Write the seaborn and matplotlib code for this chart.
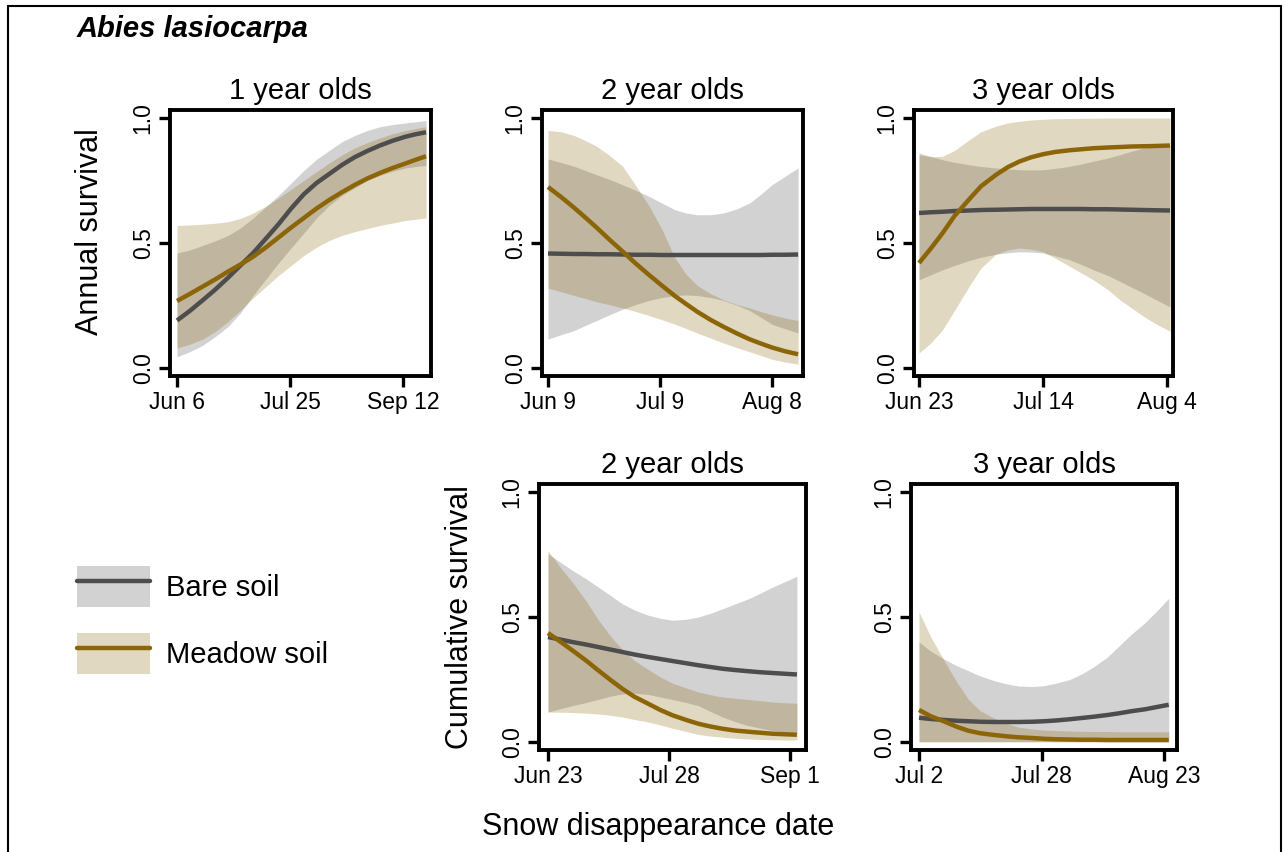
import numpy as np
import pandas as pd
import matplotlib
matplotlib.use("Agg")
import matplotlib.pyplot as plt
import seaborn as sns
from matplotlib.lines import Line2D
from matplotlib.patches import Patch
from matplotlib.colors import to_rgba
from matplotlib.legend_handler import HandlerTuple

# ---------------- data (day of year, survival) ----------------
# Panel 1: 1 year olds, annual survival
x1 = [157, 162.5, 168, 173.5, 179, 184.5, 190, 195.5, 201, 206.5, 212, 217.5, 223, 228.5, 234, 239.5, 245, 250.5, 256, 260.5, 265]
bare_fit_1 = [0.19, 0.228, 0.27, 0.313, 0.36, 0.41, 0.46, 0.517, 0.575, 0.638, 0.695, 0.74, 0.776, 0.812, 0.843, 0.868, 0.89, 0.909, 0.925, 0.935, 0.943]
bare_lo_1 = [0.045, 0.065, 0.09, 0.125, 0.165, 0.22, 0.29, 0.355, 0.42, 0.48, 0.54, 0.60, 0.65, 0.69, 0.72, 0.75, 0.77, 0.787, 0.80, 0.806, 0.81]
bare_hi_1 = [0.46, 0.472, 0.49, 0.508, 0.53, 0.56, 0.60, 0.645, 0.69, 0.74, 0.79, 0.835, 0.87, 0.905, 0.93, 0.95, 0.965, 0.974, 0.98, 0.985, 0.99]
meadow_fit_1 = [0.268, 0.296, 0.325, 0.354, 0.385, 0.414, 0.445, 0.482, 0.522, 0.562, 0.60, 0.638, 0.672, 0.703, 0.732, 0.758, 0.78, 0.80, 0.818, 0.833, 0.847]
meadow_lo_1 = [0.08, 0.095, 0.115, 0.145, 0.185, 0.23, 0.28, 0.325, 0.37, 0.41, 0.45, 0.483, 0.51, 0.53, 0.545, 0.558, 0.57, 0.58, 0.59, 0.595, 0.60]
meadow_hi_1 = [0.57, 0.572, 0.575, 0.579, 0.585, 0.598, 0.62, 0.647, 0.68, 0.715, 0.75, 0.785, 0.82, 0.852, 0.88, 0.902, 0.92, 0.937, 0.95, 0.958, 0.965]

# Panel 2: 2 year olds, annual survival
x2 = [160, 163.5, 167, 170, 173, 176.5, 180, 183.5, 187, 190.5, 194, 197, 200, 203.5, 207, 210.5, 214, 217, 220, 223.5, 227]
bare_fit_2 = [0.458, 0.457, 0.456, 0.456, 0.455, 0.455, 0.454, 0.453, 0.453, 0.452, 0.452, 0.452, 0.452, 0.452, 0.452, 0.452, 0.452, 0.452, 0.453, 0.453, 0.454]
bare_lo_2 = [0.116, 0.133, 0.15, 0.17, 0.19, 0.213, 0.235, 0.254, 0.27, 0.282, 0.29, 0.292, 0.29, 0.282, 0.27, 0.252, 0.23, 0.203, 0.175, 0.157, 0.14]
bare_hi_2 = [0.836, 0.822, 0.807, 0.79, 0.773, 0.754, 0.733, 0.711, 0.687, 0.66, 0.633, 0.62, 0.613, 0.613, 0.62, 0.636, 0.66, 0.695, 0.733, 0.767, 0.80]
meadow_fit_2 = [0.724, 0.684, 0.641, 0.602, 0.562, 0.513, 0.466, 0.418, 0.373, 0.33, 0.288, 0.256, 0.225, 0.193, 0.165, 0.139, 0.115, 0.098, 0.082, 0.067, 0.055]
meadow_lo_2 = [0.32, 0.305, 0.29, 0.278, 0.265, 0.253, 0.24, 0.226, 0.21, 0.193, 0.175, 0.158, 0.14, 0.12, 0.10, 0.082, 0.065, 0.05, 0.035, 0.024, 0.015]
meadow_hi_2 = [0.95, 0.945, 0.93, 0.91, 0.887, 0.85, 0.807, 0.73, 0.65, 0.555, 0.44, 0.375, 0.33, 0.298, 0.273, 0.255, 0.24, 0.226, 0.213, 0.20, 0.19]

# Panel 3: 3 year olds, annual survival
x3 = [174, 176, 178, 180, 182.5, 184.5, 187, 189, 191, 193, 195, 197, 199.5, 201.5, 203.5, 206, 208, 210, 212, 214, 216.5]
bare_fit_3 = [0.62, 0.623, 0.625, 0.628, 0.63, 0.632, 0.633, 0.634, 0.635, 0.636, 0.636, 0.636, 0.636, 0.636, 0.635, 0.635, 0.634, 0.633, 0.632, 0.631, 0.63]
bare_lo_3 = [0.353, 0.373, 0.393, 0.41, 0.43, 0.443, 0.455, 0.461, 0.465, 0.464, 0.46, 0.449, 0.433, 0.414, 0.393, 0.37, 0.347, 0.323, 0.30, 0.275, 0.244]
bare_hi_3 = [0.86, 0.846, 0.833, 0.823, 0.813, 0.806, 0.80, 0.796, 0.793, 0.792, 0.793, 0.798, 0.807, 0.816, 0.827, 0.84, 0.853, 0.867, 0.88, 0.886, 0.89]
meadow_fit_3 = [0.42, 0.478, 0.54, 0.608, 0.675, 0.727, 0.772, 0.803, 0.826, 0.843, 0.855, 0.864, 0.871, 0.875, 0.879, 0.882, 0.884, 0.886, 0.887, 0.888, 0.89]
meadow_lo_3 = [0.06, 0.10, 0.153, 0.23, 0.327, 0.40, 0.455, 0.472, 0.48, 0.475, 0.465, 0.44, 0.407, 0.38, 0.353, 0.313, 0.273, 0.24, 0.207, 0.178, 0.147]
meadow_hi_3 = [0.853, 0.845, 0.847, 0.87, 0.913, 0.945, 0.967, 0.98, 0.987, 0.992, 0.995, 0.997, 0.998, 0.999, 0.999, 1.0, 1.0, 1.0, 1.0, 1.0, 1.0]

# Panel 4: 2 year olds, cumulative survival
x4 = [174, 177.5, 181, 185, 188.5, 192, 195.5, 199, 203, 206.5, 210, 214, 217.5, 221, 224.5, 228, 232, 235.5, 239, 242.5, 246]
bare_fit_4 = [0.42, 0.41, 0.40, 0.39, 0.38, 0.37, 0.36, 0.35, 0.34, 0.332, 0.324, 0.315, 0.307, 0.30, 0.293, 0.288, 0.283, 0.279, 0.276, 0.273, 0.27]
bare_lo_4 = [0.12, 0.133, 0.145, 0.158, 0.17, 0.183, 0.192, 0.195, 0.19, 0.18, 0.17, 0.158, 0.145, 0.122, 0.10, 0.082, 0.065, 0.055, 0.045, 0.04, 0.035]
bare_hi_4 = [0.753, 0.72, 0.687, 0.653, 0.62, 0.587, 0.553, 0.528, 0.507, 0.495, 0.487, 0.491, 0.50, 0.515, 0.533, 0.552, 0.573, 0.596, 0.62, 0.641, 0.663]
meadow_fit_4 = [0.436, 0.402, 0.367, 0.326, 0.287, 0.249, 0.213, 0.181, 0.153, 0.128, 0.107, 0.088, 0.073, 0.062, 0.053, 0.046, 0.041, 0.037, 0.033, 0.031, 0.029]
meadow_lo_4 = [0.12, 0.119, 0.118, 0.115, 0.112, 0.107, 0.10, 0.09, 0.08, 0.068, 0.055, 0.042, 0.03, 0.024, 0.019, 0.015, 0.012, 0.01, 0.009, 0.008, 0.008]
meadow_hi_4 = [0.765, 0.70, 0.64, 0.565, 0.49, 0.425, 0.37, 0.326, 0.29, 0.26, 0.235, 0.216, 0.20, 0.189, 0.18, 0.175, 0.17, 0.165, 0.16, 0.157, 0.155]

# Panel 5: 3 year olds, cumulative survival
x5 = [183, 185.5, 188.5, 191, 193.5, 196, 199, 201.5, 204, 207, 209.5, 212, 215, 217.5, 220, 223, 225.5, 228, 231, 233.5, 236]
bare_fit_5 = [0.097, 0.092, 0.088, 0.085, 0.083, 0.081, 0.08, 0.08, 0.08, 0.081, 0.083, 0.086, 0.091, 0.096, 0.101, 0.108, 0.115, 0.123, 0.131, 0.14, 0.149]
bare_lo_5 = [0.002, 0.002, 0.002, 0.002, 0.002, 0.002, 0.002, 0.002, 0.002, 0.002, 0.002, 0.002, 0.002, 0.003, 0.003, 0.003, 0.003, 0.004, 0.004, 0.005, 0.005]
bare_hi_5 = [0.40, 0.363, 0.33, 0.305, 0.285, 0.264, 0.245, 0.233, 0.224, 0.222, 0.225, 0.235, 0.25, 0.272, 0.30, 0.34, 0.385, 0.43, 0.478, 0.525, 0.575]
meadow_fit_5 = [0.128, 0.103, 0.081, 0.061, 0.045, 0.035, 0.028, 0.023, 0.019, 0.016, 0.013, 0.011, 0.01, 0.009, 0.009, 0.008, 0.008, 0.008, 0.008, 0.008, 0.008]
meadow_lo_5 = [0.0, 0.0, 0.0, 0.0, 0.0, 0.0, 0.0, 0.0, 0.0, 0.0, 0.0, 0.0, 0.0, 0.0, 0.0, 0.0, 0.0, 0.0, 0.0, 0.0, 0.0]
meadow_hi_5 = [0.52, 0.42, 0.32, 0.24, 0.17, 0.125, 0.095, 0.075, 0.06, 0.052, 0.048, 0.046, 0.044, 0.043, 0.042, 0.042, 0.041, 0.041, 0.041, 0.041, 0.041]

# tick positions (day of year) and labels
ticks_1 = [157, 206, 255]; labels_1 = ["Jun 6", "Jul 25", "Sep 12"]
ticks_2 = [160, 190, 220]; labels_2 = ["Jun 9", "Jul 9", "Aug 8"]
ticks_3 = [174, 195, 216]; labels_3 = ["Jun 23", "Jul 14", "Aug 4"]
ticks_4 = [174, 209, 244]; labels_4 = ["Jun 23", "Jul 28", "Sep 1"]
ticks_5 = [183, 209, 235]; labels_5 = ["Jul 2", "Jul 28", "Aug 23"]

titles = ["1 year olds", "2 year olds", "3 year olds", "2 year olds", "3 year olds"]
soils = ["Bare soil", "Meadow soil"]

# ---------------- style ----------------
sns.set_style("ticks")
plt.rcParams["font.family"] = ["Liberation Sans", "DejaVu Sans"]
plt.rcParams["text.color"] = "black"
plt.rcParams["axes.labelcolor"] = "black"
plt.rcParams["xtick.color"] = "black"
plt.rcParams["ytick.color"] = "black"

W, H = 1285, 852
fig = plt.figure(figsize=(W / 100, H / 100), dpi=100)

LINE_COL = {"Bare soil": "#4d4d4d", "Meadow soil": "#8b6508"}
FILL_COL = {"Bare soil": to_rgba("#666666", 0.29), "Meadow soil": to_rgba("#8b6508", 0.25)}
LW = 3.2

# pixel boxes (left, top, right, bottom) and x-limits
boxes = [(170, 110, 431, 376), (542, 110, 803, 376), (914, 110, 1173, 376),
         (539, 484, 806, 750), (911, 484, 1177, 750)]
xlims = [(153.96, 267.15), (158.39, 228.31), (173.15, 217.01),
         (171.40, 248.63), (181.30, 237.75)]
ylim = (-0.032, 1.032)

panels = [
    (x1, bare_fit_1, bare_lo_1, bare_hi_1, meadow_fit_1, meadow_lo_1, meadow_hi_1, ticks_1, labels_1),
    (x2, bare_fit_2, bare_lo_2, bare_hi_2, meadow_fit_2, meadow_lo_2, meadow_hi_2, ticks_2, labels_2),
    (x3, bare_fit_3, bare_lo_3, bare_hi_3, meadow_fit_3, meadow_lo_3, meadow_hi_3, ticks_3, labels_3),
    (x4, bare_fit_4, bare_lo_4, bare_hi_4, meadow_fit_4, meadow_lo_4, meadow_hi_4, ticks_4, labels_4),
    (x5, bare_fit_5, bare_lo_5, bare_hi_5, meadow_fit_5, meadow_lo_5, meadow_hi_5, ticks_5, labels_5),
]

for i, (xs, bf, bl, bh, mf, ml, mh, tk, tl) in enumerate(panels):
    L, T, R, B = boxes[i]
    ax = fig.add_axes([L / W, 1 - B / H, (R - L) / W, (B - T) / H])
    df = pd.concat([
        pd.DataFrame({"day": xs, "fit": bf, "lo": bl, "hi": bh, "soil": "Bare soil"}),
        pd.DataFrame({"day": xs, "fit": mf, "lo": ml, "hi": mh, "soil": "Meadow soil"}),
    ], ignore_index=True)
    for s in soils:
        sub = df[df.soil == s]
        ax.fill_between(sub["day"], sub["lo"], sub["hi"], color=FILL_COL[s], lw=0, zorder=1)
    sns.lineplot(data=df, x="day", y="fit", hue="soil", hue_order=soils,
                 palette=LINE_COL, lw=LW, legend=False, errorbar=None, ax=ax, zorder=3)
    for ln in ax.get_lines():
        ln.set_solid_capstyle("butt")
    ax.set_xlim(*xlims[i])
    ax.set_ylim(*ylim)
    ax.set_xticks(tk)
    ax.set_xticklabels(tl)
    ax.set_yticks([0.0, 0.5, 1.0])
    ax.set_yticklabels(["0.0", "0.5", "1.0"])
    ax.set_xlabel("")
    ax.set_ylabel("")
    for sp in ax.spines.values():
        sp.set_visible(True)
        sp.set_linewidth(2.8)
        sp.set_color("black")
    ax.tick_params(axis="both", direction="out", length=8, width=2.4, colors="black",
                   labelsize=16.5)
    ax.tick_params(axis="x", pad=3)
    ax.tick_params(axis="y", pad=3)
    for lab in ax.get_yticklabels():
        lab.set_rotation(90)
        lab.set_va("center")
        lab.set_ha("right")
    ax.set_title(titles[i], fontsize=21, pad=8, color="black")
    ax.set_facecolor("white")

# axis labels and figure title
fig.text(77 / W, 1 - 37 / H, "Abies lasiocarpa", fontsize=21, fontweight="bold",
         fontstyle="italic", ha="left", va="baseline")
fig.text(90 / W, 1 - 232 / H, "Annual survival", fontsize=22, rotation=90,
         ha="center", va="center")
fig.text(460 / W, 1 - 617 / H, "Cumulative survival", fontsize=22, rotation=90,
         ha="center", va="center")
fig.text(658 / W, 1 - 827 / H, "Snow disappearance date", fontsize=22,
         ha="center", va="center")

# legend
handles = [
    (Patch(facecolor=FILL_COL["Bare soil"], edgecolor="none"),
     Line2D([], [], color=LINE_COL["Bare soil"], lw=LW)),
    (Patch(facecolor=FILL_COL["Meadow soil"], edgecolor="none"),
     Line2D([], [], color=LINE_COL["Meadow soil"], lw=LW)),
]
fig.legend(handles, soils, handler_map={tuple: HandlerTuple(ndivide=1)},
           loc="upper left", bbox_to_anchor=(77 / W, 1 - 566 / H), frameon=False,
           fontsize=21, handlelength=2.5, handleheight=1.8, labelspacing=0.88,
           handletextpad=0.55, borderpad=0, borderaxespad=0)

# outer frame (top, left, right)
fx0, fx1, fy = 8 / W, 1281 / W, 1 - 6 / H
for xs_, ys_ in [([fx0, fx1], [fy, fy]), ([fx0, fx0], [0, fy]), ([fx1, fx1], [0, fy])]:
    fig.add_artist(Line2D(xs_, ys_, color="black", lw=1.5, transform=fig.transFigure))

fig.savefig("out.png", dpi=100, facecolor="white")
